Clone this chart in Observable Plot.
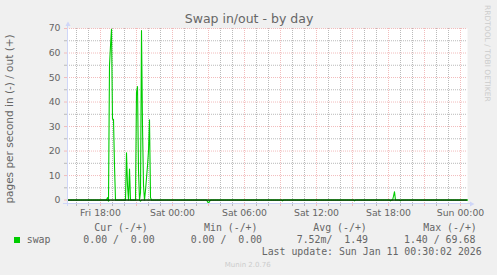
<!DOCTYPE html>
<html><head><meta charset="utf-8">
<script src="https://cdn.jsdelivr.net/npm/d3@7"></script>
<script src="https://cdn.jsdelivr.net/npm/@observablehq/plot@0.6"></script>
<style>
html,body{margin:0;padding:0;background:#f0f0f0;}
#chart{width:497px;height:275px;position:relative;overflow:hidden;}
</style></head><body><div id="chart"></div>
<script>
// ---- data ----
const title = "Swap in/out - by day";
const yLabel = "pages per second in (-) / out (+)";
const domainStart = "2026-01-09T15:15";
const domainEnd = "2026-01-11T00:35";

// swap out (+), 5-minute samples (zeros between spikes)
const outTimes = [
  "2026-01-09T15:15","2026-01-09T18:30","2026-01-09T18:35","2026-01-09T18:40","2026-01-09T18:45",
  "2026-01-09T18:50","2026-01-09T18:55","2026-01-09T19:00","2026-01-09T19:05","2026-01-09T19:10",
  "2026-01-09T19:15","2026-01-09T20:05","2026-01-09T20:10","2026-01-09T20:15","2026-01-09T20:20",
  "2026-01-09T20:25","2026-01-09T20:30","2026-01-09T20:55","2026-01-09T21:00","2026-01-09T21:05",
  "2026-01-09T21:10","2026-01-09T21:15","2026-01-09T21:20","2026-01-09T21:25","2026-01-09T21:30",
  "2026-01-09T21:35","2026-01-09T21:40","2026-01-09T21:45","2026-01-09T21:50","2026-01-09T21:55",
  "2026-01-09T22:00","2026-01-09T22:05","2026-01-09T22:10","2026-01-09T22:15","2026-01-10T18:20",
  "2026-01-10T18:25","2026-01-10T18:30","2026-01-10T18:35","2026-01-11T00:35"
];
const outValues = [
  0,0,1,0,55,
  63,69.68,33,33,14,
  0,0,19.3,6,0,
  12.7,0,0,44,46.3,
  12,0,3,69.2,30,
  6,0,4,9,14,
  20,32.7,1,0,0,
  1.5,3.4,0,0
];
// swap in (-), shown below zero
const inTimes = [
  "2026-01-09T15:15","2026-01-09T18:35","2026-01-09T18:40","2026-01-09T18:45","2026-01-09T21:15",
  "2026-01-09T21:20","2026-01-09T21:25","2026-01-10T02:50","2026-01-10T02:55","2026-01-10T03:00",
  "2026-01-10T03:05","2026-01-10T03:10","2026-01-10T09:05","2026-01-10T09:10","2026-01-10T09:15",
  "2026-01-10T15:05","2026-01-10T15:10","2026-01-10T15:15","2026-01-10T18:05","2026-01-10T18:10",
  "2026-01-10T18:15","2026-01-10T18:55","2026-01-10T19:00","2026-01-10T19:05","2026-01-11T00:35"
];
const inValues = [
  0,0,0.4,0,0,
  0.4,0,0,0.6,1.4,
  0.5,0,0,0.35,0,
  0,0.35,0,0,0.35,
  0,0,0.35,0,0
];

const yTicks = [0,10,20,30,40,50,60,70];
const yMinorTicks = [5,15,25,35,45,55,65];
const xTickTimes = ["2026-01-09T18:00","2026-01-10T00:00","2026-01-10T06:00","2026-01-10T12:00","2026-01-10T18:00","2026-01-11T00:00"];
const xTickLabels = ["Fri 18:00","Sat 00:00","Sat 06:00","Sat 12:00","Sat 18:00","Sun 00:00"];

const legendSeries = ["swap"];
const legendHeaders = ["Cur (-/+)","Min (-/+)","Avg (-/+)","Max (-/+)"];
const legendValues = ["0.00 /  0.00","0.00 /  0.00","7.52m/  1.49","1.40 / 69.68"];
const lastUpdate = "Last update: Sun Jan 11 00:30:02 2026";
const watermark = "RRDTOOL / TOBI OETIKER";
const version = "Munin 2.0.76";

// ---- build ----
const GREEN = "#00cc00", FONT = "#666666", AXIS = "#cfd6f8";
const GRID = "#bababa", MGRID = "#f2bcbc";
const xStart = new Date(domainStart), xEnd = new Date(domainEnd);
const outData = outTimes.map((t,i)=>({t:new Date(t), v:outValues[i]}));
const inData = inTimes.map((t,i)=>({t:new Date(t), v:-inValues[i]}));
const hours = d3.timeHour.range(xStart, xEnd);
const minorHours = hours.filter(d=>d.getHours()%3!==0);
const majorHours = hours.filter(d=>d.getHours()%3===0);
const labelMap = new Map(xTickTimes.map((t,i)=>[+new Date(t), xTickLabels[i]]));

const plot = Plot.plot({
  width:497, height:275,
  marginLeft:67, marginRight:30, marginTop:28, marginBottom:72,
  style:{background:"#f0f0f0", fontFamily:"DejaVu Sans", fontSize:"9.3px", color:FONT, overflow:"visible"},
  x:{type:"time", domain:[xStart,xEnd]},
  y:{domain:[-1.4,70]},
  marks:[
    Plot.frame({fill:"white", stroke:null}),
    Plot.ruleX(minorHours,{x:d=>d, stroke:GRID, strokeDasharray:"1 1"}),
    Plot.ruleY(yMinorTicks,{y:d=>d, stroke:GRID, strokeDasharray:"1 1"}),
    Plot.ruleX(majorHours,{x:d=>d, stroke:MGRID, strokeDasharray:"1 1"}),
    Plot.ruleY(yTicks,{y:d=>d, stroke:MGRID, strokeDasharray:"1 1"}),
    Plot.axisX(minorHours,{tickSize:3, stroke:GRID, tickFormat:()=>"", label:null}),
    Plot.axisX(majorHours,{tickSize:3, stroke:MGRID, tickFormat:()=>"", label:null}),
    Plot.axisX(xTickTimes.map(t=>new Date(t)),{tickSize:0, tickPadding:6, tickFormat:d=>labelMap.get(+d), label:null, fill:FONT}),
    Plot.axisY(yMinorTicks,{tickSize:3, stroke:GRID, tickFormat:()=>"", label:null}),
    Plot.axisY(yTicks,{tickSize:3, stroke:MGRID, tickPadding:4, label:null, fill:FONT}),
    Plot.line(outData,{x:"t", y:"v", stroke:GREEN, strokeWidth:1.1}),
    Plot.line(inData,{x:"t", y:"v", stroke:GREEN, strokeWidth:1.1}),
    Plot.ruleY([0],{stroke:"#000"}),
    Plot.ruleX([xStart],{stroke:AXIS, insetTop:-5, insetBottom:-3}),
    Plot.ruleY([-1.4],{stroke:AXIS, insetLeft:-4, insetRight:-3}),
    Plot.dot([0],{frameAnchor:"top-left", symbol:"triangle", r:1.9, fill:AXIS, stroke:null, dx:0.5, dy:-4}),
    Plot.dot([0],{frameAnchor:"bottom-right", symbol:"triangle", r:1.9, fill:AXIS, stroke:null, rotate:90, dx:4, dy:0.5})
  ]
});
document.getElementById("chart").appendChild(plot);

const svg = d3.select(plot);
function txt(s, x, y, o={}){
  const t = svg.append("text").attr("x",x).attr("y",y).text(s)
    .attr("fill", o.fill||FONT)
    .attr("font-family", o.family||"DejaVu Sans")
    .attr("font-size", o.size||"10px")
    .attr("text-anchor", o.anchor||"start")
    .style("white-space","pre").attr("xml:space","preserve");
  if (o.rotate) t.attr("transform", `rotate(${o.rotate},${x},${y})`);
  return t;
}
txt(title, 249, 22.5, {size:"12.5px", anchor:"middle"});
txt(yLabel, 12.5, 119, {size:"10.5px", anchor:"middle", rotate:-90});
txt(watermark, 485, 5, {size:"7.5px", fill:"#cccccc", rotate:90});
const MONO = "DejaVu Sans Mono", MS = "9.9px";
const headX = [94.3, 204, 313.3, 423.3];
const valX = [83.3, 190.7, 296.7, 404];
legendHeaders.forEach((h,i)=>txt(h, headX[i], 230.7, {family:MONO, size:MS}));
svg.append("rect").attr("x",14).attr("y",237).attr("width",6).attr("height",6).attr("fill",GREEN);
txt(legendSeries[0], 26.7, 243.3, {family:MONO, size:MS});
legendValues.forEach((v,i)=>txt(v, valX[i], 243.3, {family:MONO, size:MS}));
txt(lastUpdate, 261.7, 255.3, {family:MONO, size:MS});
txt(version, 247.7, 266.5, {size:"7px", fill:"#cccccc", anchor:"middle"});
</script></body></html>
